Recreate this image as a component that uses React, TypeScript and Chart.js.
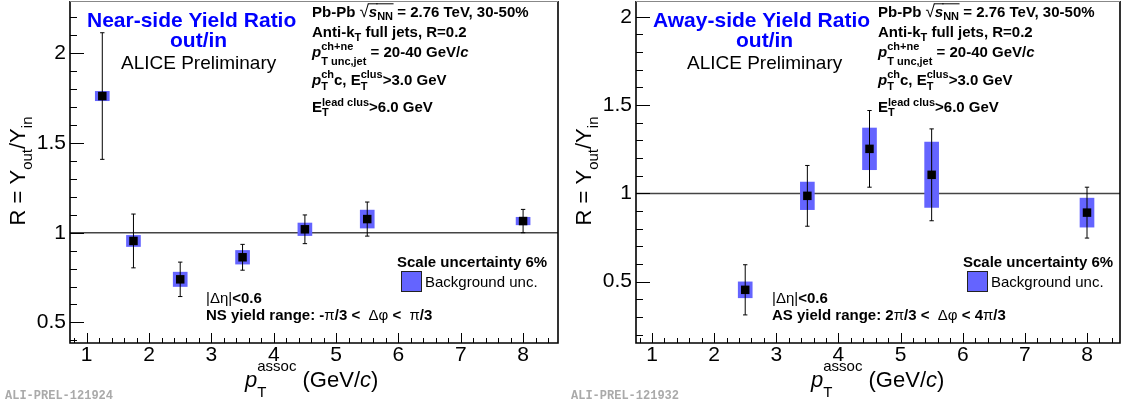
import React, { useEffect, useRef } from "react";
import { Chart, registerables } from "chart.js";
Chart.register(...registerables);

// ---------------- data ----------------
const nsPt = [1.25, 1.75, 2.5, 3.5, 4.5, 5.5, 8];
const nsRatio = [1.762, 0.954, 0.74, 0.863, 1.019, 1.076, 1.065];
const nsStat = [0.353, 0.15, 0.096, 0.072, 0.08, 0.095, 0.065];
const nsBkg = [0.026, 0.031, 0.04, 0.038, 0.035, 0.05, 0.021];

const asPt = [2.5, 3.5, 4.5, 5.5, 8];
const asRatio = [0.454, 0.986, 1.252, 1.105, 0.891];
const asStat = [0.142, 0.172, 0.217, 0.26, 0.144];
const asBkg = [0.045, 0.078, 0.118, 0.185, 0.082];

const xTicks = [1, 2, 3, 4, 5, 6, 7, 8];
const yTicks = [0.5, 1, 1.5, 2];
const nsXRange = [0.732, 8.56];
const nsYRange = [0.385, 2.292];
const asXRange = [0.7425, 8.531];
const asYRange = [0.153, 2.089];

// ---------------- text helpers ----------------
const FONT = '"Liberation Sans", Arial, Helvetica, sans-serif';

type Seg = {
  t?: string;
  size?: number;
  bold?: boolean;
  italic?: boolean;
  dy?: number;
  sup?: string;
  sub?: string;
  supDy?: number;
  subDy?: number;
  over?: boolean;
};
type Def = { size: number; ssize: number; bold: boolean; color: string; supDy: number; subDy: number };

function fontStr(size: number, bold: boolean, italic: boolean) {
  return `${italic ? "italic " : ""}${bold ? "bold " : ""}${size}px ${FONT}`;
}

function segWidth(ctx: CanvasRenderingContext2D, s: Seg, d: Def) {
  const bold = s.bold ?? d.bold;
  if (s.sup !== undefined || s.sub !== undefined) {
    ctx.font = fontStr(s.size ?? d.ssize, bold, s.italic ?? false);
    return Math.max(ctx.measureText(s.sup || "").width, ctx.measureText(s.sub || "").width);
  }
  ctx.font = fontStr(s.size ?? d.size, bold, s.italic ?? false);
  return ctx.measureText(s.t || "").width;
}

function drawRich(
  ctx: CanvasRenderingContext2D,
  x: number,
  y: number,
  segs: Seg[],
  d: Def,
  align: "left" | "center" = "left"
) {
  let total = 0;
  for (const s of segs) total += segWidth(ctx, s, d);
  let cx = align === "center" ? x - total / 2 : x;
  ctx.textAlign = "left";
  ctx.textBaseline = "alphabetic";
  for (const s of segs) {
    const w = segWidth(ctx, s, d);
    ctx.fillStyle = d.color;
    if (s.sup !== undefined || s.sub !== undefined) {
      if (s.sup) ctx.fillText(s.sup, cx, y + (s.supDy ?? d.supDy));
      if (s.sub) ctx.fillText(s.sub, cx, y + (s.subDy ?? d.subDy));
    } else {
      ctx.fillText(s.t || "", cx, y + (s.dy ?? 0));
    }
    if (s.over) {
      ctx.strokeStyle = d.color;
      ctx.lineWidth = 1;
      const yy = y - d.size * 0.86;
      ctx.beginPath();
      ctx.moveTo(cx - 1, yy);
      ctx.lineTo(cx + w + 0.5, yy);
      ctx.stroke();
    }
    cx += w;
  }
}

const headerLines: { segs: Seg[]; y: number; supDy: number; subDy: number }[] = [
  {
    segs: [
      { t: "Pb-Pb " },
      { t: "\u221A", bold: false, size: 17 },
      { t: "s", italic: true, over: true },
      { t: "NN", size: 11, dy: 3.5, over: true },
      { t: " = 2.76 TeV, 30-50%" },
    ],
    y: 16.7,
    supDy: -7,
    subDy: 4,
  },
  {
    segs: [{ t: "Anti-k" }, { t: "T", size: 11, dy: 4 }, { t: " full jets, R=0.2" }],
    y: 36.5,
    supDy: -7,
    subDy: 4,
  },
  {
    segs: [
      { t: "p", italic: true },
      { sup: "ch+ne", sub: "T unc,jet" },
      { t: " = 20-40 GeV/" },
      { t: "c", italic: true },
    ],
    y: 57.3,
    supDy: -7.3,
    subDy: 7.5,
  },
  {
    segs: [
      { t: "p", italic: true },
      { sup: "ch", sub: "T" },
      { t: "c, E" },
      { sup: "clus", sub: "T" },
      { t: ">3.0 GeV" },
    ],
    y: 85,
    supDy: -7,
    subDy: 5,
  },
  {
    segs: [{ t: "E" }, { sup: "lead clus", sub: "T" }, { t: ">6.0 GeV" }],
    y: 112,
    supDy: -6.5,
    subDy: 3.5,
  },
];

type PanelCfg = {
  title: string;
  xs: number[];
  ys: number[];
  stat: number[];
  bkg: number[];
  xr: number[];
  yr: number[];
  leftWidth: number;
  padRight: number;
  rangeSegs: Seg[];
  tag: string;
};

function makeDecor(cfg: PanelCfg) {
  return {
    id: "panelDecor",
    afterDraw(chart: any) {
      const ctx: CanvasRenderingContext2D = chart.ctx;
      const { left: L, right: R, top: T, bottom: Bt } = chart.chartArea;
      const xs = chart.scales.x;
      const ys = chart.scales.y;
      ctx.save();
      // inner ticks
      ctx.strokeStyle = "#000";
      ctx.lineWidth = 1;
      ctx.beginPath();
      for (let k = 0; k <= 30; k++) {
        const v = Math.round((0.1 + k * 0.1) * 10) / 10;
        if (v < cfg.yr[0] || v > cfg.yr[1]) continue;
        const p = Math.round(ys.getPixelForValue(v)) + 0.5;
        const len = Math.abs(v * 2 - Math.round(v * 2)) < 1e-6 ? 14 : 7;
        ctx.moveTo(L, p);
        ctx.lineTo(L + len, p);
      }
      for (let k = 0; k <= 50; k++) {
        const v = Math.round((0.2 + k * 0.2) * 10) / 10;
        if (v < cfg.xr[0] || v > cfg.xr[1]) continue;
        const p = Math.round(xs.getPixelForValue(v)) + 0.5;
        const len = Math.abs(v - Math.round(v)) < 1e-6 ? 10 : 5;
        ctx.moveTo(p, Bt);
        ctx.lineTo(p, Bt - len);
      }
      ctx.stroke();
      // frame
      ctx.lineWidth = 1.6;
      ctx.strokeStyle = "#000";
      ctx.beginPath();
      ctx.moveTo(L, T);
      ctx.lineTo(L, Bt);
      ctx.lineTo(R, Bt);
      ctx.lineTo(R, T);
      ctx.stroke();
      ctx.lineWidth = 1;
      ctx.strokeStyle = "#888";
      ctx.beginPath();
      ctx.moveTo(L, T + 0.5);
      ctx.lineTo(R, T + 0.5);
      ctx.stroke();

      const bold15: Def = { size: 15, ssize: 11, bold: true, color: "#000", supDy: -7, subDy: 4 };
      // title
      drawRich(ctx, L + 17, 27, [{ t: cfg.title }], { ...bold15, size: 21, color: "#0000ff" });
      drawRich(ctx, L + 100, 47, [{ t: "out/in" }], { ...bold15, size: 21, color: "#0000ff" });
      drawRich(ctx, L + 51, 68.5, [{ t: "ALICE Preliminary" }], { ...bold15, size: 19, bold: false });
      // header block
      for (const ln of headerLines) {
        drawRich(ctx, L + 242, ln.y, ln.segs, { ...bold15, supDy: ln.supDy, subDy: ln.subDy });
      }
      // scale uncertainty & legend
      drawRich(ctx, L + 327, 267, [{ t: "Scale uncertainty 6%" }], bold15);
      ctx.fillStyle = "#6464ff";
      ctx.fillRect(L + 331, 271, 20, 21);
      ctx.strokeStyle = "#222";
      ctx.lineWidth = 1;
      ctx.strokeRect(L + 331.5, 271.5, 20, 20);
      drawRich(ctx, L + 355, 287, [{ t: "Background unc." }], { ...bold15, bold: false });
      // cuts
      drawRich(ctx, L + 136, 303, [{ t: "|\u0394\u03B7|", bold: false }, { t: "<0.6" }], bold15);
      drawRich(ctx, L + 136, 319.5, cfg.rangeSegs, bold15);
      // y title (rotated)
      ctx.save();
      ctx.translate(L - 45, 171);
      ctx.rotate(-Math.PI / 2);
      drawRich(
        ctx,
        0,
        0,
        [{ t: "R = Y" }, { t: "out", size: 15, dy: 7 }, { t: "/Y" }, { t: "in", size: 15, dy: 7 }],
        { size: 22, ssize: 15, bold: false, color: "#000", supDy: -9, subDy: 7 },
        "center"
      );
      ctx.restore();
      // x title
      drawRich(
        ctx,
        L + 175,
        386.5,
        [
          { t: "p", italic: true },
          { sup: "assoc", sub: "T", size: 15 },
          { t: " (GeV/" },
          { t: "c", italic: true },
          { t: ")" },
        ],
        { size: 22, ssize: 15, bold: false, color: "#000", supDy: -16, subDy: 10.5 }
      );
      // tag
      ctx.font = `bold 12px "Liberation Mono", "DejaVu Sans Mono", monospace`;
      ctx.fillStyle = "#aaaaaa";
      ctx.textAlign = "left";
      ctx.textBaseline = "alphabetic";
      ctx.fillText(cfg.tag, L - 65, 399);
      ctx.restore();
    },
  };
}

function buildChart(canvas: HTMLCanvasElement, cfg: PanelCfg) {
  const cap = 0.035;
  const errPts: { x: number; y: number | null }[] = [];
  cfg.xs.forEach((x, i) => {
    const lo = cfg.ys[i] - cfg.stat[i];
    const hi = cfg.ys[i] + cfg.stat[i];
    errPts.push({ x, y: lo }, { x, y: hi }, { x, y: null });
    errPts.push({ x: x - cap, y: hi }, { x: x + cap, y: hi }, { x, y: null });
    errPts.push({ x: x - cap, y: lo }, { x: x + cap, y: lo }, { x, y: null });
  });
  const tickFont = { family: FONT, size: 21, lineHeight: 1 };
  return new Chart(canvas, {
    type: "scatter",
    data: {
      datasets: [
        {
          type: "scatter",
          data: cfg.xs.map((x, i) => ({ x, y: cfg.ys[i] })),
          pointStyle: "rect",
          pointRadius: 6,
          pointHoverRadius: 6,
          backgroundColor: "#000",
          borderWidth: 0,
          order: 0,
        } as any,
        {
          type: "line",
          data: errPts,
          borderColor: "#000",
          borderWidth: 1,
          pointRadius: 0,
          spanGaps: false,
          fill: false,
          tension: 0,
          order: 1,
        } as any,
        {
          type: "bar",
          data: cfg.xs.map((x, i) => ({ x, y: [cfg.ys[i] - cfg.bkg[i], cfg.ys[i] + cfg.bkg[i]] })),
          backgroundColor: "#6464ff",
          borderWidth: 0,
          barThickness: 14,
          order: 2,
        } as any,
        {
          type: "line",
          data: [
            { x: cfg.xr[0], y: 1 },
            { x: cfg.xr[1], y: 1 },
          ],
          borderColor: "#444",
          borderWidth: 1.5,
          pointRadius: 0,
          fill: false,
          order: 3,
        } as any,
      ],
    },
    options: {
      animation: false,
      responsive: false,
      events: [],
      layout: { autoPadding: false, padding: { top: 1, right: cfg.padRight, left: 0, bottom: 0 } },
      plugins: { legend: { display: false }, tooltip: { enabled: false }, title: { display: false } },
      scales: {
        x: {
          type: "linear",
          min: cfg.xr[0],
          max: cfg.xr[1],
          offset: false,
          grid: { display: false, drawTicks: false },
          border: { display: false },
          ticks: {
            padding: 2,
            font: tickFont,
            color: "#000",
            autoSkip: false,
            maxRotation: 0,
            callback: (v: any) => String(v),
          },
          afterBuildTicks: (s: any) => {
            s.ticks = xTicks.map((v) => ({ value: v }));
          },
          afterFit: (s: any) => {
            s.height = 62;
            s.paddingLeft = 0;
            s.paddingRight = 0;
          },
        },
        y: {
          type: "linear",
          min: cfg.yr[0],
          max: cfg.yr[1],
          beginAtZero: false,
          grid: { display: false, drawTicks: false },
          border: { display: false },
          ticks: {
            padding: 4,
            font: tickFont,
            color: "#000",
            callback: (v: any) => String(v),
          },
          afterBuildTicks: (s: any) => {
            s.ticks = yTicks.map((v) => ({ value: v }));
          },
          afterFit: (s: any) => {
            s.width = cfg.leftWidth;
            s.paddingTop = 0;
            s.paddingBottom = 0;
          },
        },
      },
    } as any,
    plugins: [makeDecor(cfg)],
  });
}

const nsCfg: PanelCfg = {
  title: "Near-side Yield Ratio",
  xs: nsPt,
  ys: nsRatio,
  stat: nsStat,
  bkg: nsBkg,
  xr: nsXRange,
  yr: nsYRange,
  leftWidth: 70,
  padRight: 5,
  rangeSegs: [
    { t: "NS yield range: -" },
    { t: "\u03C0", bold: false },
    { t: "/3 <  " },
    { t: "\u0394\u03C6", bold: false },
    { t: " <  " },
    { t: "\u03C0", bold: false },
    { t: "/3" },
  ],
  tag: "ALI-PREL-121924",
};

const asCfg: PanelCfg = {
  title: "Away-side Yield Ratio",
  xs: asPt,
  ys: asRatio,
  stat: asStat,
  bkg: asBkg,
  xr: asXRange,
  yr: asYRange,
  leftWidth: 73,
  padRight: 6,
  rangeSegs: [
    { t: "AS yield range: 2" },
    { t: "\u03C0", bold: false },
    { t: "/3 <  " },
    { t: "\u0394\u03C6", bold: false },
    { t: " < 4" },
    { t: "\u03C0", bold: false },
    { t: "/3" },
  ],
  tag: "ALI-PREL-121932",
};

function Panel({ cfg }: { cfg: PanelCfg }) {
  const ref = useRef<HTMLCanvasElement | null>(null);
  useEffect(() => {
    if (!ref.current) return;
    const ch = buildChart(ref.current, cfg);
    return () => ch.destroy();
  }, [cfg]);
  return <canvas ref={ref} width={563} height={405} style={{ display: "block", width: 563, height: 405 }} />;
}

export default function App() {
  return (
    <div
      style={{
        position: "absolute",
        left: 0,
        top: 0,
        width: 1126,
        height: 405,
        display: "flex",
        background: "#fff",
        overflow: "hidden",
      }}
    >
      <Panel cfg={nsCfg} />
      <Panel cfg={asCfg} />
    </div>
  );
}
